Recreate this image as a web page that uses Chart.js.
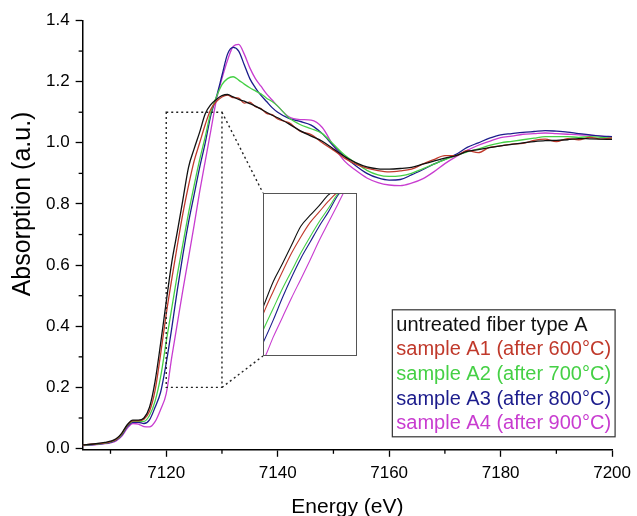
<!DOCTYPE html>
<html>
<head>
<meta charset="utf-8">
<script src="https://cdn.jsdelivr.net/npm/chart.js@4.4.0/dist/chart.umd.min.js"></script>
<style>
  html, body { margin: 0; padding: 0; background: #fff; }
  #wrap { position: relative; width: 637px; height: 516px; }
  #inset { position: absolute; left: 263px; top: 193px; width: 92px; height: 161px; border: 1px solid #555; background: #fff; }
</style>
</head>
<body>
<div id="wrap">
  <canvas id="main" width="637" height="516"></canvas>
  <div id="inset"><canvas id="zoom"></canvas></div>
</div>
<script>
// energy grid (eV) and normalised absorption for each sample
const energy = [7105,7107,7109,7110,7111,7112,7113,7114,7115,7116,7117,7118,7119,7120,7121,7122,7123,7124,7125,7126,7127,7128,7129,7130,7131,7132,7133,7134,7135,7136,7137,7138,7139,7140,
  7142,7144,7146,7148,7150,7152,7154,7156,7158,7160,7162,7164,7166,7168,7170,7172,7174,7176,7178,7180,7182,7184,7186,7188,7190,7192,7194,7196,7198,7200];

const untreated = [0.012,0.015,0.020,0.024,0.032,0.050,0.078,0.093,0.093,0.100,0.135,0.220,0.345,0.480,0.610,0.710,0.815,0.920,0.980,1.035,1.095,1.125,1.142,1.154,1.158,1.150,1.142,1.136,1.128,1.120,1.110,1.100,1.090,1.082,
  1.062,1.040,1.022,1.005,0.980,0.955,0.935,0.921,0.915,0.914,0.916,0.920,0.930,0.940,0.950,0.958,0.972,0.978,0.984,0.990,0.995,1.000,1.004,1.007,1.008,1.010,1.014,1.013,1.012,1.011];
const sampleA1 = [0.012,0.015,0.019,0.023,0.030,0.048,0.076,0.091,0.091,0.096,0.122,0.190,0.310,0.440,0.555,0.665,0.770,0.860,0.940,1.000,1.060,1.110,1.135,1.150,1.156,1.148,1.146,1.130,1.133,1.118,1.112,1.096,1.092,1.078,
  1.066,1.038,1.027,1.000,0.976,0.950,0.930,0.917,0.909,0.905,0.908,0.914,0.930,0.945,0.958,0.958,0.975,0.968,0.985,0.990,0.996,0.998,1.008,1.012,1.004,1.014,1.010,1.018,1.012,1.016];
const sampleA2 = [0.011,0.014,0.018,0.022,0.029,0.046,0.074,0.089,0.089,0.089,0.108,0.155,0.235,0.350,0.460,0.570,0.670,0.770,0.860,0.945,1.020,1.100,1.150,1.190,1.210,1.216,1.205,1.192,1.180,1.170,1.160,1.146,1.135,1.120,
  1.082,1.060,1.046,1.030,0.995,0.960,0.934,0.910,0.895,0.890,0.892,0.900,0.915,0.930,0.945,0.958,0.970,0.980,0.992,1.000,1.005,1.010,1.015,1.020,1.020,1.020,1.018,1.020,1.018,1.015];
const sampleA3 = [0.011,0.013,0.017,0.020,0.027,0.043,0.071,0.086,0.086,0.082,0.094,0.135,0.185,0.280,0.395,0.520,0.635,0.740,0.830,0.920,1.000,1.090,1.150,1.220,1.290,1.312,1.300,1.255,1.210,1.180,1.155,1.135,1.115,1.100,
  1.080,1.070,1.058,1.030,0.990,0.955,0.925,0.900,0.885,0.878,0.880,0.895,0.912,0.930,0.946,0.962,0.985,1.000,1.015,1.026,1.030,1.034,1.037,1.040,1.038,1.035,1.030,1.026,1.022,1.020];
const sampleA4 = [0.010,0.012,0.016,0.019,0.025,0.040,0.066,0.082,0.080,0.072,0.071,0.088,0.128,0.180,0.300,0.410,0.520,0.624,0.730,0.840,0.940,1.040,1.140,1.210,1.270,1.315,1.322,1.290,1.245,1.210,1.185,1.160,1.140,1.120,
  1.085,1.076,1.074,1.050,0.990,0.940,0.910,0.885,0.870,0.862,0.860,0.868,0.882,0.905,0.932,0.955,0.975,0.992,1.005,1.017,1.022,1.028,1.030,1.032,1.030,1.028,1.026,1.025,1.022,1.018];

const seriesNames = ['untreated fiber type A', 'sample A1 (after 600°C)', 'sample A2 (after 700°C)', 'sample A3 (after 800°C)', 'sample A4 (after 900°C)'];
const seriesColors = ['#111111', '#c0392b', '#45d045', '#1c1c8c', '#c83cd0'];
const seriesData = [untreated, sampleA1, sampleA2, sampleA3, sampleA4];

const xMajor = [7120, 7140, 7160, 7180, 7200];
const xMinor = [7110, 7130, 7150, 7170, 7190];
const yMajor = [0, 0.2, 0.4, 0.6, 0.8, 1.0, 1.2, 1.4];
const yMinor = [0.1, 0.3, 0.5, 0.7, 0.9, 1.1, 1.3];
const yTitle = 'Absorption (a.u.)';

// zoomed region shown in the inset
const zoomX = [7120, 7130];
const zoomY = [0.2, 1.1];

Chart.defaults.font.family = "'Liberation Sans', Arial, sans-serif";
Chart.defaults.color = '#000';

function makeDatasets(width) {
  return seriesData.map((vals, i) => ({
    label: seriesNames[i],
    data: energy.map((e, j) => ({ x: e, y: vals[j] })),
    borderColor: seriesColors[i],
    borderWidth: width,
    pointRadius: 0,
    fill: false,
    cubicInterpolationMode: 'monotone'
  }));
}

const minorTicks = {
  id: 'minorTicks',
  afterDraw(chart) {
    const { ctx } = chart;
    const xs = chart.scales.x, ys = chart.scales.y;
    ctx.save();
    ctx.strokeStyle = '#000';
    ctx.lineWidth = 1.3;
    xMinor.forEach(v => {
      const px = xs.getPixelForValue(v);
      ctx.beginPath(); ctx.moveTo(px, xs.top); ctx.lineTo(px, xs.top + 4); ctx.stroke();
    });
    yMinor.forEach(v => {
      const py = ys.getPixelForValue(v);
      ctx.beginPath(); ctx.moveTo(ys.right, py); ctx.lineTo(ys.right - 4, py); ctx.stroke();
    });
    ctx.restore();
  }
};

// y title sits a bit above the middle of the axis, as in the original
const yTitlePlugin = {
  id: 'yTitle',
  afterDraw(chart) {
    const { ctx } = chart;
    const ys = chart.scales.y;
    ctx.save();
    ctx.translate(23, ys.getPixelForValue(0.8));
    ctx.rotate(-Math.PI / 2);
    ctx.font = "25px 'Liberation Sans', Arial, sans-serif";
    ctx.fillStyle = '#000';
    ctx.textAlign = 'center';
    ctx.textBaseline = 'middle';
    ctx.fillText(yTitle, 0, 0);
    ctx.restore();
  }
};

// dotted box around the zoomed region + lines to the inset
const zoomMarker = {
  id: 'zoomMarker',
  afterDatasetsDraw(chart) {
    const { ctx } = chart;
    const xs = chart.scales.x, ys = chart.scales.y;
    const x0 = xs.getPixelForValue(zoomX[0]), x1 = xs.getPixelForValue(zoomX[1]);
    const y0 = ys.getPixelForValue(zoomY[0]), y1 = ys.getPixelForValue(zoomY[1]);
    const box = document.getElementById('inset');
    const bx = box.offsetLeft, byTop = box.offsetTop, byBot = box.offsetTop + box.offsetHeight;
    ctx.save();
    ctx.strokeStyle = '#222';
    ctx.lineWidth = 1.4;
    ctx.setLineDash([2, 3]);
    ctx.strokeRect(x0, y1, x1 - x0, y0 - y1);
    ctx.beginPath();
    ctx.moveTo(x1, y1); ctx.lineTo(bx, byTop);
    ctx.moveTo(x1, y0); ctx.lineTo(bx, byBot);
    ctx.stroke();
    ctx.restore();
  }
};

const legendBox = {
  id: 'legendBox',
  afterDraw(chart) {
    const { ctx, chartArea } = chart;
    ctx.save();
    ctx.font = "20px 'Liberation Sans', Arial, sans-serif";
    const w = Math.max(...seriesNames.map(n => ctx.measureText(n).width)) + 8;
    const lineH = 24.6;
    const h = lineH * seriesNames.length + 4;
    const right = chartArea.right + 3;
    const bottom = chartArea.bottom - 13;
    const left = right - w, top = bottom - h;
    ctx.fillStyle = '#fff';
    ctx.fillRect(left, top, w, h);
    ctx.strokeStyle = '#333';
    ctx.lineWidth = 1.2;
    ctx.strokeRect(left, top, w, h);
    ctx.textBaseline = 'middle';
    ctx.textAlign = 'left';
    seriesNames.forEach((n, i) => {
      ctx.fillStyle = seriesColors[i];
      ctx.fillText(n, left + 4, top + 15.5 + i * lineH);
    });
    ctx.restore();
  }
};

new Chart(document.getElementById('main'), {
  type: 'line',
  data: { datasets: makeDatasets(1.3) },
  options: {
    responsive: false,
    animation: false,
    layout: { padding: { top: 20.5, right: 2, bottom: 0, left: 40 } },
    plugins: { legend: { display: false }, tooltip: { enabled: false } },
    scales: {
      x: {
        type: 'linear',
        min: 7105, max: 7200,
        afterBuildTicks: s => { s.ticks = xMajor.map(v => ({ value: v })); },
        ticks: { font: { size: 17 }, padding: 6, maxRotation: 0, callback: v => String(v) },
        grid: { drawOnChartArea: false, tickLength: 7, tickWidth: 1.3, tickColor: '#000' },
        border: { color: '#000', width: 1.5 },
        title: { display: true, text: 'Energy (eV)', font: { size: 21, lineHeight: 0.8 }, padding: { top: 10, bottom: 0 } }
      },
      y: {
        min: -0.004, max: 1.4,
        afterBuildTicks: s => { s.ticks = yMajor.map(v => ({ value: v })); },
        ticks: { font: { size: 17 }, padding: 6, callback: v => v.toFixed(1) },
        grid: { drawOnChartArea: false, tickLength: 7, tickWidth: 1.3, tickColor: '#000' },
        border: { color: '#000', width: 1.5 }
      }
    }
  },
  plugins: [minorTicks, yTitlePlugin, zoomMarker, legendBox]
});

new Chart(document.getElementById('zoom'), {
  type: 'line',
  data: { datasets: makeDatasets(1.1) },
  options: {
    responsive: true,
    maintainAspectRatio: false,
    animation: false,
    layout: { padding: 0 },
    plugins: { legend: { display: false }, tooltip: { enabled: false } },
    scales: {
      x: { type: 'linear', display: false, min: zoomX[0], max: zoomX[1] },
      y: { display: false, min: zoomY[0], max: zoomY[1] }
    }
  }
});
</script>
</body>
</html>
